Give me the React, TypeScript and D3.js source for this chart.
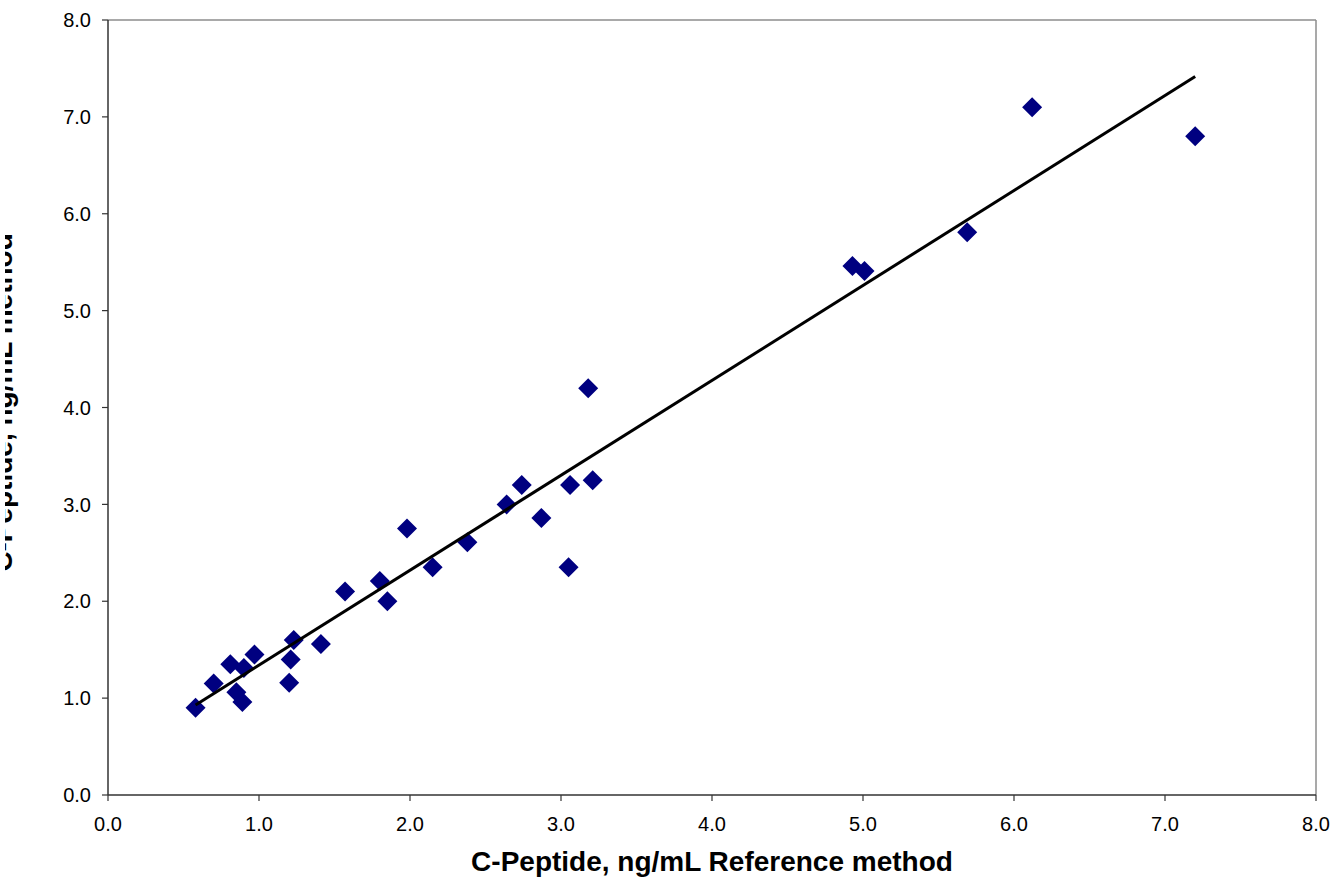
import React from "react";
import * as d3 from "d3";

const refValues = [0.58, 0.70, 0.81, 0.85, 0.89, 0.90, 0.97, 1.20, 1.21, 1.23, 1.41, 1.57, 1.80, 1.85, 1.98, 2.15, 2.38, 2.64, 2.74, 2.87, 3.05, 3.06, 3.18, 3.21, 4.93, 5.01, 5.69, 6.12, 7.20];
const testValues = [0.90, 1.15, 1.35, 1.06, 0.96, 1.31, 1.45, 1.16, 1.40, 1.60, 1.56, 2.10, 2.21, 2.00, 2.75, 2.35, 2.61, 3.00, 3.20, 2.86, 2.35, 3.20, 4.20, 3.25, 5.46, 5.41, 5.81, 7.10, 6.80];
const trendSlope = 0.98;
const trendIntercept = 0.36;
const tickValues = [0, 1, 2, 3, 4, 5, 6, 7, 8];
const xTitle = "C-Peptide, ng/mL Reference method";
const yTitle = "C-Peptide, ng/mL method";

const W = 1335;
const H = 879;
const left = 108;
const right = 1316;
const top = 20;
const bottom = 795;

export default function App() {
  const x = d3.scaleLinear().domain([0, 8]).range([left, right]);
  const y = d3.scaleLinear().domain([0, 8]).range([bottom, top]);
  const fmt = d3.format(".1f");
  const xMin = d3.min(refValues) as number;
  const xMax = d3.max(refValues) as number;
  const line = d3.line<number>().x((v) => x(v)).y((v) => y(trendSlope * v + trendIntercept));
  const r = 10;
  const diamond = (cx: number, cy: number) =>
    `M${cx},${cy - r}L${cx + r},${cy}L${cx},${cy + r}L${cx - r},${cy}Z`;
  const font = "Arial, 'Liberation Sans', Helvetica, sans-serif";
  return (
    <div style={{ position: "fixed", left: 0, top: 0, width: W, height: H, background: "#fff" }}>
      <svg width={W} height={H} style={{ display: "block" }}>
        <defs>
          <clipPath id="ytclip">
            <rect x={5} y={0} width={100} height={H} />
          </clipPath>
        </defs>
        <rect x={0} y={0} width={W} height={H} fill="#fff" />
        {/* frame */}
        <line x1={left} y1={top} x2={right} y2={top} stroke="#8c8c8c" strokeWidth={1.5} />
        <line x1={right} y1={top} x2={right} y2={bottom} stroke="#8c8c8c" strokeWidth={1.5} />
        <line x1={left} y1={top} x2={left} y2={bottom} stroke="#333" strokeWidth={1.5} />
        <line x1={left} y1={bottom} x2={right} y2={bottom} stroke="#333" strokeWidth={1.5} />
        {tickValues.map((t) => (
          <g key={"y" + t}>
            <line x1={left - 6} x2={left} y1={y(t)} y2={y(t)} stroke="#333" strokeWidth={1.2} />
            <text x={left - 17} y={y(t)} dy="0.36em" textAnchor="end" fontFamily={font} fontSize={20} fill="#000">
              {fmt(t)}
            </text>
          </g>
        ))}
        {tickValues.map((t) => (
          <g key={"x" + t}>
            <line x1={x(t)} x2={x(t)} y1={bottom} y2={bottom + 6} stroke="#333" strokeWidth={1.2} />
            <text x={x(t)} y={831} textAnchor="middle" fontFamily={font} fontSize={20} fill="#000">
              {fmt(t)}
            </text>
          </g>
        ))}
        {/* points */}
        {refValues.map((v, i) => (
          <path key={"p" + i} d={diamond(x(v), y(testValues[i]))} fill="#000080" />
        ))}
        {/* trend line */}
        <path d={line([xMin, xMax]) || ""} fill="none" stroke="#000" strokeWidth={3} />
        {/* titles */}
        <text x={(left + right) / 2} y={871} textAnchor="middle" fontFamily={font} fontSize={28} fontWeight="bold" fill="#000">
          {xTitle}
        </text>
        <g clipPath="url(#ytclip)">
          <text
            transform={`translate(12,${(top + bottom) / 2 - 5}) rotate(-90)`}
            textAnchor="middle"
            fontFamily={font}
            fontSize={28}
            fontWeight="bold"
            fill="#000"
          >
            {yTitle}
          </text>
        </g>
      </svg>
    </div>
  );
}
